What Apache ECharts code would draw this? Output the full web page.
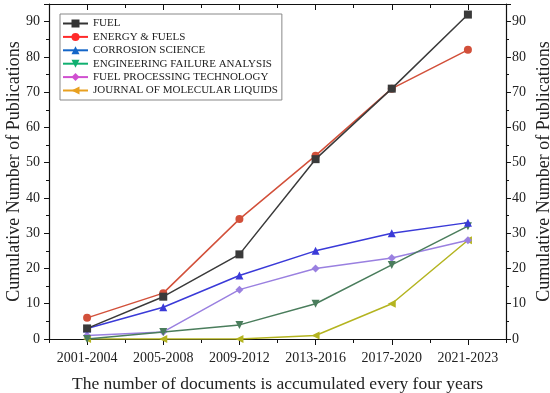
<!DOCTYPE html>
<html><head><meta charset="utf-8">
<script src="https://cdn.jsdelivr.net/npm/echarts@6/dist/echarts.min.js"></script>
<style>html,body{margin:0;padding:0;background:#fff}#c{width:550px;height:393px}</style>
</head><body><div id="c"></div>
<script>
var categories = ['2001-2004','2005-2008','2009-2012','2013-2016','2017-2020','2021-2023'];
var seriesNames = ['FUEL','ENERGY & FUELS','CORROSION SCIENCE','ENGINEERING FAILURE ANALYSIS','FUEL PROCESSING TECHNOLOGY','JOURNAL OF MOLECULAR LIQUIDS'];
var fuel = [3, 12, 24, 51, 71, 92];
var energyFuels = [6, 13, 34, 52, 71, 82];
var corrosion = [3, 9, 18, 25, 30, 33];
var engFailure = [0, 2, 4, 10, 21, 32];
var fuelProcessing = [1, 2, 14, 20, 23, 28];
var molLiquids = [0, 0, 0, 1, 10, 28];
var yTicks = [0,10,20,30,40,50,60,70,80,90];

var values = [fuel, energyFuels, corrosion, engFailure, fuelProcessing, molLiquids];
var lineColors = ['#3a3a3a','#d2503a','#3a3ad8','#4a7d5c','#9a80e0','#b4b420'];
var legendColors = ['#333333','#ff2a2a','#1466c8','#10b070','#d050d0','#e8a020'];
var symbols = ['rect','circle','triangle','triangle','diamond','triangle'];
var rotates = [0,0,0,180,0,90];
var FONT = "'Liberation Serif','Times New Roman',serif";

var chart = echarts.init(document.getElementById('c'));
var series = values.map(function(v,i){
  return {
    name: seriesNames[i], type:'line', data:v, xAxisIndex:0, yAxisIndex:0,
    symbol: symbols[i], symbolRotate: rotates[i], symbolSize: 8,
    lineStyle:{color:lineColors[i], width:1.5},
    itemStyle:{color:lineColors[i]},
    z: 10-i
  };
});
var yLabelFmt = function(v){ return yTicks.indexOf(v) >= 0 ? String(v) : ''; };
function yAx(pos){
  var left = pos === 'left';
  return {
    type:'value', position:pos, min:0, max:95, interval:10,
    name:'Cumulative Number of Publications', nameLocation:'middle', nameGap: left?26:29,
    nameMoveOverlap:false,
    nameTextStyle:{fontFamily:FONT, fontSize:18, color:'#222'},
    axisLine:{show:true, lineStyle:{color:'#111', width:1.2}},
    axisTick:{show:true, inside:false, length:5, lineStyle:{color:'#111'}},
    minorTick:{show:true, splitNumber:2, length:3, lineStyle:{color:'#111'}},
    axisLabel:{fontFamily:FONT, fontSize:14, color:'#222', margin: left?9:6, formatter:yLabelFmt},
    splitLine:{show:false}
  };
}
function xAx(pos, major, labels){
  return {
    type:'category', data:categories, position:pos, boundaryGap:true,
    axisLine:{show:true, lineStyle:{color:'#111', width:1.2}},
    axisTick:{show:true, alignWithLabel:major, interval:0, inside: pos==='top', length: major?6:4, lineStyle:{color:'#111'}},
    axisLabel:{show:labels, interval:0, fontFamily:FONT, fontSize:14, color:'#222', margin:12},
    name: labels ? 'The number of documents is accumulated every four years' : '',
    nameLocation:'middle', nameGap:36,
    nameTextStyle:{fontFamily:FONT, fontSize:17.5, color:'#222'},
    splitLine:{show:false}
  };
}
chart.setOption({
  backgroundColor:'#fff',
  animation:false,
  grid:{left:49, right:44, top:4, bottom:54, containLabel:false, outerBoundsMode:'none'},
  legend:{
    orient:'vertical', left:60, top:14, itemWidth:25, itemHeight:10, itemGap:0.4,
    padding:[3,4,3,2], borderColor:'#888', borderWidth:1, backgroundColor:'#fff',
    textStyle:{fontFamily:FONT, fontSize:11, lineHeight:13, color:'#222'},
    data: seriesNames.map(function(n,i){
      return {name:n, itemStyle:{color:legendColors[i]}, lineStyle:{color:legendColors[i]}};
    })
  },
  xAxis:[xAx('bottom',true,true), xAx('bottom',false,false), xAx('top',true,false), xAx('top',false,false)],
  yAxis:[yAx('left'), yAx('right')],
  series: series
});
</script></body></html>
